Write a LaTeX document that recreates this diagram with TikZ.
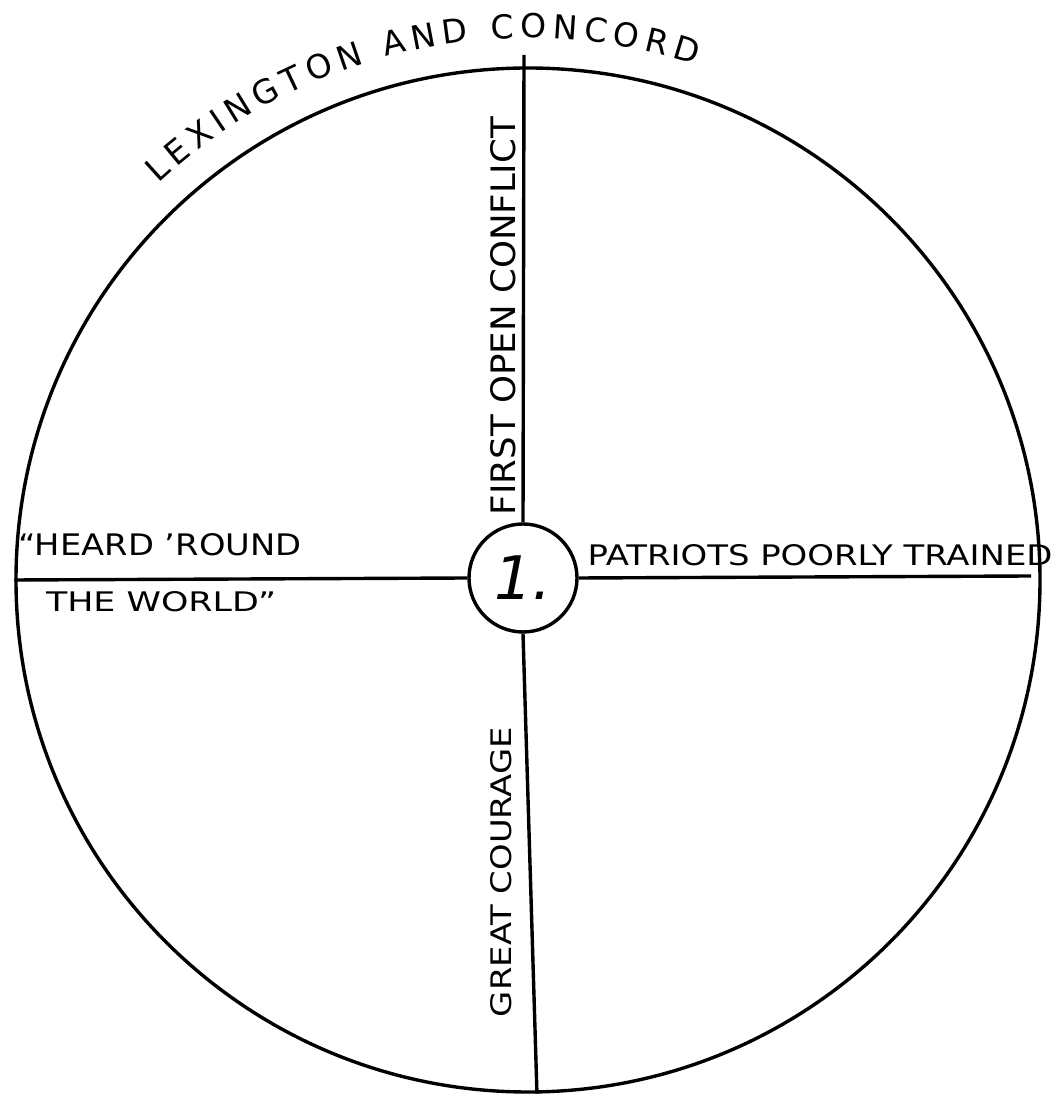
\documentclass[tikz,border=0pt]{standalone}
\usepackage{fontspec}
\setmainfont{DejaVu Sans}
\usetikzlibrary{decorations.text}
\newcommand{\fitbox}[3]{\resizebox{#1}{#2}{#3}}
\begin{document}
\begin{tikzpicture}[x=1pt,y=1pt,
  ink/.style={line width=3.4pt, draw=black},
  lbl/.style={inner sep=0pt, outer sep=0pt}]
\useasboundingbox (0,0) rectangle (1057,1098);
\fill[white] (0,0) rectangle (1057,1098);
% big circle
\node[circle, ink, minimum size=1024pt, inner sep=0pt] (big) at (528,518) {};
% small centre circle
\node[circle, ink, minimum size=108pt, inner sep=0pt,
      font=\fontsize{60}{64}\selectfont\itshape] (small) at (523,520) {1.};
\coordinate (vtop) at (524,1043);
\coordinate (rend) at (1031,522);
% connectors
\draw[ink] (vtop) -- (small.north);
\draw[ink] (small.south) -- (big.-89);
\draw[ink] (big.west) -- (small.west);
\draw[ink] (small.east) -- (rend);
% arc title
\path[decorate, decoration={text along path,
   text={|\fontsize{33}{38}\selectfont|LEXINGTON AND CONCORD},
   text align={fit to path}}]
   (528,518) ++(133:542pt) arc[start angle=133, end angle=72, radius=542pt];
% labels
\node[lbl, rotate=90] (t1) at (503,782) {\fitbox{398pt}{25pt}{FIRST OPEN CONFLICT}};
\node[lbl, rotate=90] (t2) at (501,226) {\fitbox{290pt}{21pt}{GREAT COURAGE}};
\node[lbl] (t3) at (160,553) {\fitbox{283pt}{22pt}{“HEARD ’ROUND}};
\node[lbl] (t4) at (161,496) {\fitbox{230pt}{20pt}{THE WORLD”}};
\node[lbl] (t5) at (820,543) {\fitbox{465pt}{21pt}{PATRIOTS POORLY TRAINED}};
\end{tikzpicture}
\end{document}
